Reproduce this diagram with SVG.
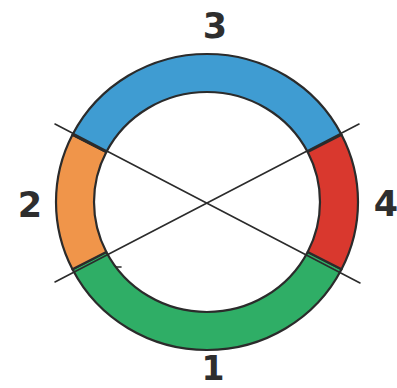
<svg xmlns="http://www.w3.org/2000/svg" width="397" height="388" viewBox="0 0 397 388">
  <style>
    .seg { stroke: #2b2b2b; stroke-width: 2.2; stroke-linejoin: round; }
    .lbl { font-family: "DejaVu Sans", "Liberation Sans", sans-serif; font-weight: bold; font-size: 35px; fill: #2e2e2e; text-anchor: middle; }
    .conn { stroke: #2b2b2b; stroke-width: 1.6; fill: none; stroke-linecap: round; }
  </style>
  <rect width="397" height="388" fill="#ffffff"/>
  <g id="segment-1">
    <path class="seg" fill="#2fae66" d="M 341.54 269.19 A 151 148 0 0 1 72.46 269.19 L 106.32 251.94 A 113 110 0 0 0 307.68 251.94 Z"/>
  </g>
  <g id="segment-2">
    <path class="seg" fill="#f0954a" d="M 72.46 269.19 A 151 148 0 0 1 72.46 134.81 L 106.32 152.06 A 113 110 0 0 0 106.32 251.94 Z"/>
  </g>
  <g id="segment-3">
    <path class="seg" fill="#3f9cd2" d="M 72.46 134.81 A 151 148 0 0 1 341.54 134.81 L 307.68 152.06 A 113 110 0 0 0 106.32 152.06 Z"/>
  </g>
  <g id="segment-4">
    <path class="seg" fill="#d9382e" d="M 341.54 134.81 A 151 148 0 0 1 341.54 269.19 L 307.68 251.94 A 113 110 0 0 0 307.68 152.06 Z"/>
  </g>
  <g id="connectors">
    <line class="conn" x1="55" y1="124" x2="360" y2="283"/>
    <line class="conn" x1="55" y1="282" x2="359" y2="124"/>
    <line class="conn" x1="116" y1="267" x2="121" y2="267"/>
  </g>
  <g id="labels">
    <text class="lbl" x="215" y="38">3</text>
    <text class="lbl" x="30" y="217">2</text>
    <text class="lbl" x="386" y="216">4</text>
    <text class="lbl" x="213" y="380" style="font-size:33px">1</text>
  </g>
</svg>
